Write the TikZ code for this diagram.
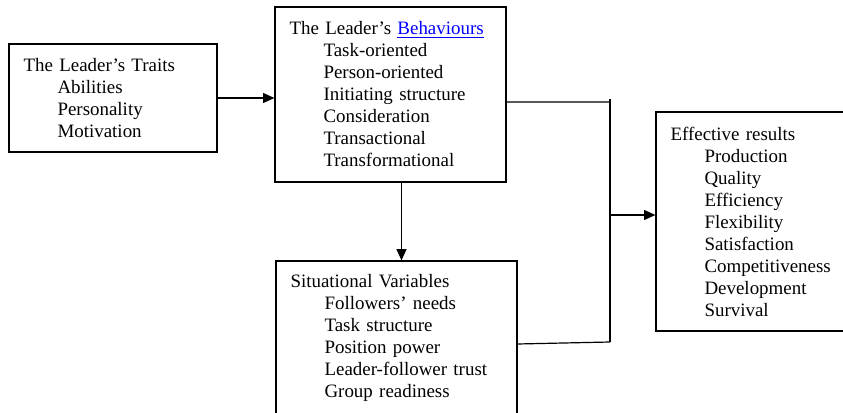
\documentclass[tikz,border=0pt]{standalone}
\usepackage{fontspec}
\setmainfont{Liberation Serif}
\usetikzlibrary{arrows.meta}
\newcommand{\ind}{\hspace*{25.5pt}}
\begin{document}
\begin{tikzpicture}[x=0.75pt, y=-0.75pt, line width=0.9pt]
      \tikzset{block/.style={draw, rectangle, inner xsep=10.9pt, inner ysep=0pt, align=left, font=\fontsize{14.2}{16.5}\selectfont}}
      \useasboundingbox (0,0) rectangle (843,413);
%% Boxes
      	\node[block, text width=134.2pt, minimum height=81pt] (traits) at (113,98) {The Leader’s Traits\\ \ind Abilities\\ \ind Personality\\ \ind Motivation};
      	\node[block, text width=151.45pt, minimum height=131.25pt] (behav) at (390.5,94.5) {The Leader’s \textcolor{blue}{\underline{Behaviours}}\\ \ind Task-oriented\\ \ind Person-oriented\\ \ind Initiating structure\\ \ind Consideration\\ \ind Transactional\\ \ind Transformational};
    	\node[block, text width=158.95pt, minimum height=115.5pt] (situ) at (396.5,338) {Situational Variables\\ \ind Followers’ needs\\ \ind Task structure\\ \ind Position power\\ \ind Leader-follower trust\\ \ind Group readiness};
  	    \node[block, text width=128.2pt, minimum height=164.25pt] (result) at (756,221.5) {Effective results\\ \ind Production\\ \ind Quality\\ \ind Efficiency\\ \ind Flexibility\\ \ind Satisfaction\\ \ind Competitiveness\\ \ind Development\\ \ind Survival};
%Junction
		\coordinate (jtop) at (610,99);
		\coordinate (jin) at (610,102);
		\coordinate (jmid) at (610,215);
		\coordinate (jbot) at (610,342);
%Connectors
		\draw[->, >={Triangle[length=8.5pt, width=7.5pt]}] (traits.east) -- (traits.east -| behav.west);
		\draw[->, >={Triangle[length=8.5pt, width=7.5pt]}] ([xshift=8.25pt]behav.south) -- ([xshift=8.25pt]behav.south |- situ.north);
		\draw ([yshift=-5.6pt]behav.east) -- (jin);
		\draw ([yshift=-4.5pt]situ.east) -- (jbot);
		\draw (jtop) -- (jbot);
		\draw[->, >={Triangle[length=8.5pt, width=7.5pt]}] (jmid) -- (jmid -| result.west);
	\end{tikzpicture}
\end{document}
